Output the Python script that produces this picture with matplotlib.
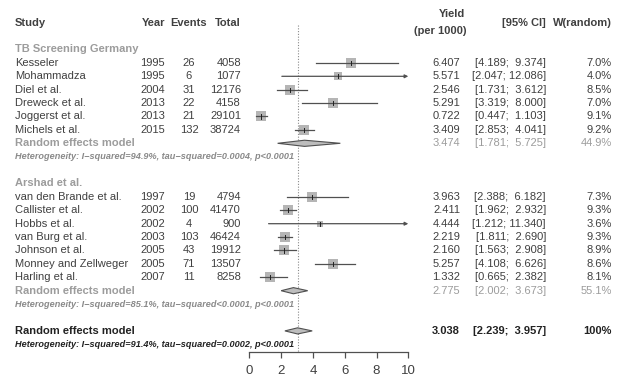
import numpy as np
import matplotlib.pyplot as plt

plt.rcParams['font.family'] = ['Liberation Sans', 'DejaVu Sans']

# ---- data ----
g1_label = 'TB Screening Germany'
g1_study = ['Kesseler', 'Mohammadza', 'Diel et al.', 'Dreweck et al.', 'Joggerst et al.', 'Michels et al.']
g1_year = [1995, 1995, 2004, 2013, 2013, 2015]
g1_events = [26, 6, 31, 22, 21, 132]
g1_total = [4058, 1077, 12176, 4158, 29101, 38724]
g1_est = [6.407, 5.571, 2.546, 5.291, 0.722, 3.409]
g1_lo = [4.189, 2.047, 1.731, 3.319, 0.447, 2.853]
g1_hi = [9.374, 12.086, 3.612, 8.000, 1.103, 4.041]
g1_w = [7.0, 4.0, 8.5, 7.0, 9.1, 9.2]
g1_pool = (3.474, 1.781, 5.725, '44.9%')
g1_het = 'Heterogeneity: I\u2212squared=94.9%, tau\u2212squared=0.0004, p<0.0001'

g2_label = 'Arshad et al.'
g2_study = ['van den Brande et al.', 'Callister et al.', 'Hobbs et al.', 'van Burg et al.',
            'Johnson et al.', 'Monney and Zellweger', 'Harling et al.']
g2_year = [1997, 2002, 2002, 2003, 2005, 2005, 2007]
g2_events = [19, 100, 4, 103, 43, 71, 11]
g2_total = [4794, 41470, 900, 46424, 19912, 13507, 8258]
g2_est = [3.963, 2.411, 4.444, 2.219, 2.160, 5.257, 1.332]
g2_lo = [2.388, 1.962, 1.212, 1.811, 1.563, 4.108, 0.665]
g2_hi = [6.182, 2.932, 11.340, 2.690, 2.908, 6.626, 2.382]
g2_w = [7.3, 9.3, 3.6, 9.3, 8.9, 8.6, 8.1]
g2_pool = (2.775, 2.002, 3.673, '55.1%')
g2_het = 'Heterogeneity: I\u2212squared=85.1%, tau\u2212squared<0.0001, p<0.0001'

all_pool = (3.038, 2.239, 3.957, '100%')
all_het = 'Heterogeneity: I\u2212squared=91.4%, tau\u2212squared=0.0002, p<0.0001'

x_ticks = [0, 2, 4, 6, 8, 10]

# ---- layout (pixels of a 632x384 figure) ----
W, H = 632, 384
x0_px, unit_px = 249.3, 15.9      # x=0 pixel, pixels per unit
r0_px, row_px = 49.5, 13.4        # row 0 pixel, pixels per row

fig = plt.figure(figsize=(W / 100, H / 100), dpi=100)
ax = fig.add_axes([0, 0, 1, 1])
ax.set_xlim(-x0_px / unit_px, (W - x0_px) / unit_px)
ax.set_ylim((H - r0_px) / row_px, -r0_px / row_px)
ax.patch.set_alpha(0)


def px(x):
    return x / W


def ry(p):
    return (p - r0_px) / row_px


tr = ax.get_yaxis_transform()  # x in axes fraction, y in data

FS = 8
HFS = 6.6
C_TXT = '#404040'
C_GRAY = '#9c9c9c'
C_DARK = '#222222'
C_LINE = '#505050'
C_BOX = '#b5b5b5'


def ci_text(lo, hi):
    gap = '  ' if hi < 10 else ' '
    return '[%.3f;%s%.3f]' % (lo, gap, hi)


# header
hy = ry(23)
ax.text(px(15), hy, 'Study', transform=tr, fontsize=FS, fontweight='bold', color=C_TXT, va='center')
ax.text(px(165), hy, 'Year', transform=tr, fontsize=FS, fontweight='bold', color=C_TXT, va='center', ha='right')
ax.text(px(189), hy, 'Events', transform=tr, fontsize=FS, fontweight='bold', color=C_TXT, va='center', ha='center')
ax.text(px(241), hy, 'Total', transform=tr, fontsize=FS, fontweight='bold', color=C_TXT, va='center', ha='right')
ax.text(px(465), ry(14), 'Yield', transform=tr, fontsize=FS, fontweight='bold', color=C_TXT, va='center', ha='right')
ax.text(px(466), ry(31), '(per 1000)', transform=tr, fontsize=FS, fontweight='bold', color=C_TXT, va='center', ha='right')
ax.text(px(546), hy, '[95% CI]', transform=tr, fontsize=FS, fontweight='bold', color=C_TXT, va='center', ha='right')
ax.text(px(612), hy, 'W(random)', transform=tr, fontsize=FS, fontweight='bold', color=C_TXT, va='center', ha='right')


def draw_study(r, name, year, ev, tot, est, lo, hi, w):
    ax.text(px(15), r, name, transform=tr, fontsize=FS, color=C_TXT, va='center')
    ax.text(px(165), r, str(year), transform=tr, fontsize=FS, color=C_TXT, va='center', ha='right')
    ax.text(px(189), r, str(ev), transform=tr, fontsize=FS, color=C_TXT, va='center', ha='center')
    ax.text(px(241), r, str(tot), transform=tr, fontsize=FS, color=C_TXT, va='center', ha='right')
    ax.text(px(460), r, '%.3f' % est, transform=tr, fontsize=FS, color=C_TXT, va='center', ha='right')
    ax.text(px(546), r, ci_text(lo, hi), transform=tr, fontsize=FS, color=C_TXT, va='center', ha='right')
    ax.text(px(612), r, '%.1f%%' % w, transform=tr, fontsize=FS, color=C_TXT, va='center', ha='right')
    side = 10.7 * np.sqrt(w / 9.3) * 0.72
    ax.scatter([est], [r], marker='s', s=side ** 2, color=C_BOX, lw=0, zorder=2)
    if hi > 10:
        ax.annotate('', xy=(10, r), xytext=(lo, r),
                    arrowprops=dict(arrowstyle='-|>', color=C_LINE, lw=0.9,
                                    mutation_scale=5, shrinkA=0, shrinkB=0), zorder=3)
    else:
        ax.plot([lo, hi], [r, r], color=C_LINE, lw=0.9, zorder=3)
    ax.plot([est, est], [r - 0.15, r + 0.15], color='#202020', lw=0.7, zorder=4)


def draw_pool(r, pool, het, col, hcol):
    est, lo, hi, wtxt = pool
    wt = 'bold' if col == C_DARK else 'normal'
    ax.text(px(15), r, 'Random effects model', transform=tr, fontsize=FS, fontweight='bold', color=col, va='center')
    ax.text(px(460), r, '%.3f' % est, transform=tr, fontsize=FS, fontweight=wt, color=col, va='center', ha='right')
    ax.text(px(546), r, ci_text(lo, hi), transform=tr, fontsize=FS, fontweight=wt, color=col,
            va='center', ha='right')
    ax.text(px(612), r, wtxt, transform=tr, fontsize=FS, fontweight=wt, color=col, va='center', ha='right')
    hh = 0.23
    ax.fill([lo, est, hi, est], [r, r - hh, r, r + hh], facecolor='#bdbdbd', edgecolor=C_LINE, lw=0.8, zorder=3)
    ax.text(px(15), r + 1, het, transform=tr, fontsize=HFS, fontweight='bold', style='italic',
            color=hcol, va='center')


# group 1
ax.text(px(15), 0, g1_label, transform=tr, fontsize=FS, fontweight='bold', color=C_GRAY, va='center')
for i in range(len(g1_study)):
    draw_study(1 + i, g1_study[i], g1_year[i], g1_events[i], g1_total[i], g1_est[i], g1_lo[i], g1_hi[i], g1_w[i])
draw_pool(7, g1_pool, g1_het, C_GRAY, '#8a8a8a')

# group 2
ax.text(px(15), 10, g2_label, transform=tr, fontsize=FS, fontweight='bold', color=C_GRAY, va='center')
for i in range(len(g2_study)):
    draw_study(11 + i, g2_study[i], g2_year[i], g2_events[i], g2_total[i], g2_est[i], g2_lo[i], g2_hi[i], g2_w[i])
draw_pool(18, g2_pool, g2_het, C_GRAY, '#8a8a8a')

# overall
draw_pool(21, all_pool, all_het, C_DARK, C_DARK)

# reference line at overall estimate
r_axis = ry(352.3)
ax.plot([all_pool[0], all_pool[0]], [ry(25), r_axis], color='#8a8a8a', lw=0.8, ls=(0, (1, 1.5)), zorder=1)

# x axis
for s in ['top', 'right', 'left']:
    ax.spines[s].set_visible(False)
ax.spines['bottom'].set_position(('data', r_axis))
ax.spines['bottom'].set_bounds(0, 10)
ax.spines['bottom'].set_color(C_LINE)
ax.spines['bottom'].set_linewidth(0.9)
ax.set_xticks(x_ticks)
ax.set_xticklabels([str(t) for t in x_ticks])
ax.tick_params(axis='x', direction='out', length=4, width=0.9, color=C_LINE, labelsize=9.5,
               labelcolor=C_TXT, pad=5)
ax.set_yticks([])

fig.savefig('out.png', dpi=100)
